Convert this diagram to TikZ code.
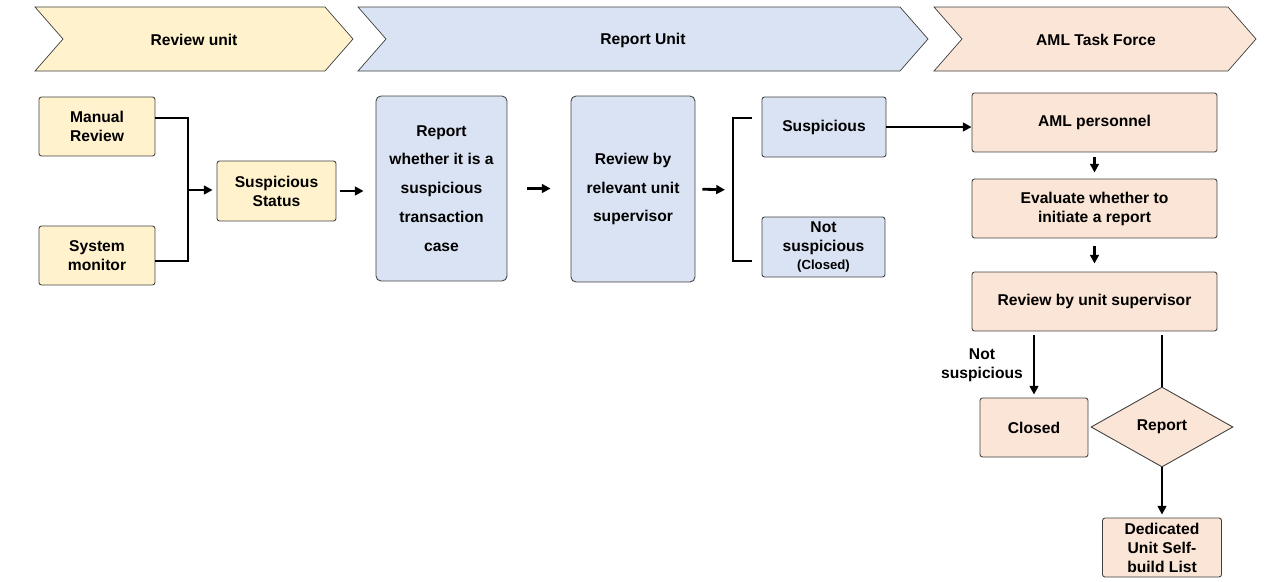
\documentclass[tikz,border=0pt]{standalone}
\usepackage{fontspec}
\setmainfont{Liberation Sans}
\usetikzlibrary{arrows.meta,shapes.geometric}
\definecolor{revfill}{HTML}{FFF2CC}
\definecolor{repfill}{HTML}{DAE3F3}
\definecolor{amlfill}{HTML}{FBE5D6}
\definecolor{edge}{HTML}{404040}

\begin{document}
\begin{tikzpicture}[x=0.02cm,y=-0.02cm,
    every node/.style={font=\bfseries\fontsize{8.9}{10.8}\selectfont,align=center},
    box/.style={draw=edge,line width=0.5pt,rounded corners=0.05cm,inner sep=1pt},
    tall/.style={box,rounded corners=0.1cm,font=\bfseries\fontsize{8.9}{16.4}\selectfont},
    banner/.style={draw=edge,line width=0.4pt},
    line/.style={line width=1.6pt},
    arrow/.style={line,-{Triangle[length=5pt,width=5pt]}}]
        \useasboundingbox (0,0) rectangle (1276,582);
        \draw[banner,fill=revfill](35,7)--(325,7)--(353,39)--(325,71)--(35,71)--(63,39)--cycle;
        \node(revunit)at(194,40){Review unit};
        \draw[banner,fill=repfill](358,7)--(900,7)--(928,39)--(900,71)--(358,71)--(386,39)--cycle;
        \node(repunit)at(643,40){Report Unit};
        \draw[banner,fill=amlfill](934,7)--(1228,7)--(1256,39)--(1228,71)--(934,71)--(962,39)--cycle;
        \node(amlunit)at(1096,40){AML Task Force};
        \node[box,fill=revfill,minimum width=2.32cm,minimum height=1.18cm](manual)at(97,126.5){Manual\\Review};
        \node[box,fill=revfill,minimum width=2.32cm,minimum height=1.18cm](system)at(97,255.5){System\\monitor};
        \node[box,fill=revfill,minimum width=2.38cm,minimum height=1.2cm](status)at(276.5,191){Suspicious\\Status};
        \node[tall,fill=repfill,minimum width=2.62cm,minimum height=3.7cm](report)at(441.5,188.5){Report\\whether it is a\\suspicious\\transaction\\case};
        \node[tall,fill=repfill,minimum width=2.48cm,minimum height=3.72cm](supervisor)at(633,189){Review by\\relevant unit\\supervisor};
        \node[box,fill=repfill,minimum width=2.48cm,minimum height=1.2cm](susp)at(824,127){Suspicious};
        \node[box,fill=repfill,minimum width=2.46cm,minimum height=1.2cm](notsusp)at(823.5,247){Not\\suspicious\\{\fontsize{7.5}{9}\selectfont(Closed)}};
        \node[box,fill=amlfill,minimum width=4.9cm,minimum height=1.18cm](aml)at(1094.5,122.5){AML personnel};
        \node[box,fill=amlfill,minimum width=4.9cm,minimum height=1.18cm](evaluate)at(1094.5,208.5){Evaluate whether to\\initiate a report};
        \node[box,fill=amlfill,minimum width=4.9cm,minimum height=1.18cm](unitrev)at(1094.5,301.5){Review by unit supervisor};
        \node[box,fill=amlfill,minimum width=2.16cm,minimum height=1.18cm](closed)at(1034,427.5){Closed};
        \node[draw=edge,line width=0.5pt,fill=amlfill,diamond,aspect=1.775,inner sep=0pt,minimum width=2.84cm,minimum height=1.6cm](decide)at(1162,427){Report};
        \node[box,fill=amlfill,minimum width=2.38cm,minimum height=1.18cm](dedicated)at(1162,547.5){Dedicated\\Unit Self-\\build List};
        \node(nslabel)at(982,365){Not\\suspicious};
        \coordinate(merge)at(188,190);
        \coordinate(branch)at(733,190);
        \draw[line]([yshift=0.17cm]manual.east)-|(merge)|-([yshift=-0.11cm]system.east);
        \draw[arrow,shorten >=0.08cm](merge)--(merge-|status.west);
        \draw[arrow,shorten <=0.08cm,shorten >=0.24cm](status.east)--(status.east-|report.west);
        \draw[arrow,shorten <=0.4cm,shorten >=0.4cm](report.east)--(report.east-|supervisor.west);
        \draw[arrow,shorten <=0.14cm,shorten >=0.16cm](supervisor.east)--(branch);
        \draw[line]([xshift=-0.2cm,yshift=0.18cm]susp.west)-|(branch)|-([xshift=-0.2cm,yshift=-0.28cm]notsusp.west);
        \draw[arrow](susp.east)--(susp.east-|aml.west);
        \draw[arrow,shorten <=0.1cm,shorten >=0.12cm](aml)--(evaluate);
        \draw[arrow,shorten <=0.16cm,shorten >=0.16cm](evaluate)--(unitrev);
        \draw[arrow,shorten <=0.08cm,shorten >=0.06cm](closed.north|-unitrev.south)--(closed.north);
        \draw[line,shorten <=0.08cm](decide.north|-unitrev.south)--(decide.north);
        \draw[arrow,shorten >=0.06cm](decide)--(dedicated);
    \end{tikzpicture}
\end{document}
